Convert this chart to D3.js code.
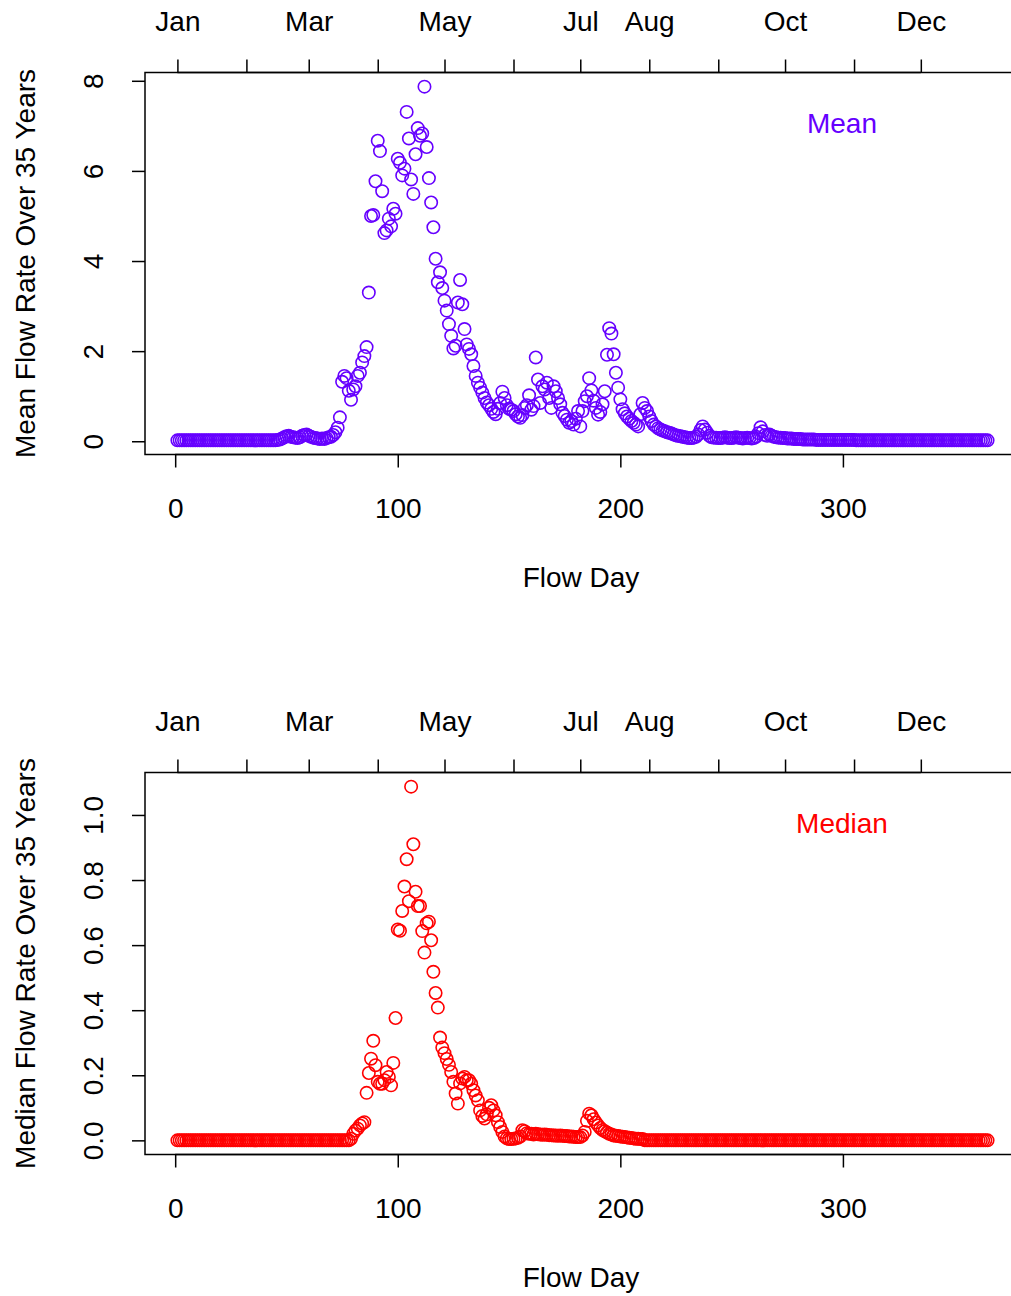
<!DOCTYPE html>
<html>
<head>
<meta charset="utf-8">
<script src="https://cdn.jsdelivr.net/npm/d3@7"></script>
<style>
  body { margin: 0; background: #fff; }
  svg { display: block; }
  text { font-family: "Liberation Sans", Arial, Helvetica, sans-serif; font-size: 28px; fill: #000; }
</style>
</head>
<body>
<svg id="chart" width="1011" height="1296"></svg>
<script>
// Day of year for each observation
const flowDays = d3.range(1, 366);

// Mean daily flow rate across 35 years, one value per flow day
const meanFlow = [
  0.02,0.02,0.02,0.02,0.02,0.02,0.02,0.02,0.02,0.02,
  0.02,0.02,0.02,0.02,0.02,0.02,0.02,0.02,0.02,0.02,
  0.02,0.02,0.02,0.02,0.02,0.02,0.02,0.02,0.02,0.02,
  0.02,0.02,0.02,0.02,0.02,0.02,0.02,0.02,0.02,0.02,
  0.02,0.02,0.02,0.02,0.02,0.03,0.04,0.06,0.09,0.11,
  0.12,0.10,0.09,0.08,0.07,0.09,0.12,0.14,0.15,0.12,
  0.10,0.08,0.07,0.06,0.05,0.06,0.05,0.07,0.09,0.10,
  0.14,0.20,0.30,0.53,1.32,1.45,1.40,1.12,0.92,1.15,
  1.22,1.45,1.52,1.75,1.89,2.09,3.30,5.00,5.02,5.77,
  6.67,6.44,5.55,4.62,4.68,4.94,4.77,5.16,5.05,6.27,
  6.18,5.90,6.05,7.31,6.72,5.81,5.49,6.37,6.95,6.78,
  6.83,7.87,6.53,5.84,5.30,4.75,4.05,3.53,3.75,3.40,
  3.12,2.90,2.60,2.34,2.06,2.12,3.08,3.58,3.04,2.49,
  2.15,2.05,1.93,1.67,1.45,1.30,1.19,1.08,0.96,0.86,
  0.80,0.72,0.65,0.60,0.72,0.85,1.10,0.96,0.80,0.72,
  0.70,0.67,0.60,0.55,0.52,0.58,0.74,0.80,1.02,0.70,
  0.78,1.86,1.37,0.85,1.22,1.15,1.30,0.96,0.74,1.22,
  1.11,0.96,0.82,0.63,0.56,0.48,0.41,0.45,0.37,0.50,
  0.67,0.33,0.67,0.89,1.00,1.40,1.13,0.90,0.74,0.59,
  0.65,0.82,1.11,1.92,2.51,2.39,1.93,1.52,1.19,0.93,
  0.71,0.62,0.55,0.50,0.45,0.41,0.37,0.33,0.60,0.85,
  0.74,0.67,0.55,0.45,0.37,0.33,0.29,0.26,0.24,0.22,
  0.20,0.19,0.17,0.15,0.13,0.12,0.11,0.10,0.09,0.08,
  0.07,0.07,0.08,0.10,0.15,0.25,0.33,0.26,0.19,0.12,
  0.09,0.08,0.08,0.07,0.07,0.08,0.09,0.08,0.07,0.07,
  0.08,0.09,0.08,0.07,0.06,0.07,0.08,0.07,0.06,0.07,
  0.10,0.18,0.31,0.22,0.14,0.12,0.15,0.12,0.10,0.09,
  0.08,0.08,0.07,0.07,0.06,0.06,0.06,0.05,0.05,0.05,
  0.05,0.04,0.04,0.04,0.04,0.04,0.04,0.03,0.03,0.03,
  0.03,0.03,0.03,0.03,0.03,0.03,0.03,0.03,0.03,0.03,
  0.03,0.03,0.03,0.03,0.03,0.02,0.02,0.02,0.02,0.02,
  0.02,0.02,0.02,0.02,0.02,0.02,0.02,0.02,0.02,0.02,
  0.02,0.02,0.02,0.02,0.02,0.02,0.02,0.02,0.02,0.02,
  0.02,0.02,0.02,0.02,0.02,0.02,0.02,0.02,0.02,0.02,
  0.02,0.02,0.02,0.02,0.02,0.02,0.02,0.02,0.02,0.02,
  0.02,0.02,0.02,0.02,0.02,0.02,0.02,0.02,0.02,0.02,
  0.02,0.02,0.02,0.02,0.02
];

// Median daily flow rate across 35 years, one value per flow day
const medianFlow = [
  0,0,0,0,0,0,0,0,0,0,
  0,0,0,0,0,0,0,0,0,0,
  0,0,0,0,0,0,0,0,0,0,
  0,0,0,0,0,0,0,0,0,0,
  0,0,0,0,0,0,0,0,0,0,
  0,0,0,0,0,0,0,0,0,0,
  0,0,0,0,0,0,0,0,0,0,
  0,0,0,0,0,0,0,0,0.005,0.02,
  0.03,0.036,0.046,0.052,0.056,0.146,0.207,0.251,0.306,0.231,
  0.18,0.174,0.174,0.185,0.21,0.195,0.169,0.238,0.376,0.648,
  0.644,0.705,0.78,0.864,0.735,1.087,0.91,0.764,0.72,0.72,
  0.643,0.577,0.667,0.672,0.615,0.518,0.453,0.408,0.316,0.285,
  0.268,0.25,0.232,0.21,0.18,0.144,0.113,0.175,0.19,0.195,
  0.185,0.185,0.174,0.154,0.138,0.123,0.092,0.075,0.067,0.08,
  0.1,0.108,0.092,0.077,0.056,0.041,0.026,0.012,0.006,0.004,
  0.004,0.005,0.006,0.008,0.012,0.031,0.028,0.022,0.02,0.02,
  0.018,0.02,0.019,0.018,0.017,0.018,0.017,0.016,0.016,0.015,
  0.015,0.014,0.015,0.014,0.013,0.013,0.012,0.012,0.011,0.01,
  0.01,0.01,0.015,0.026,0.06,0.082,0.077,0.065,0.055,0.046,
  0.038,0.032,0.028,0.024,0.02,0.018,0.015,0.014,0.013,0.012,
  0.011,0.01,0.009,0.008,0.007,0.006,0.005,0.005,0.004,0.004,
  0,0,0,0,0,0,0,0,0,0,
  0,0,0,0,0,0,0,0,0,0,
  0,0,0,0,0,0,0,0,0,0,
  0,0,0,0,0,0,0,0,0,0,
  0,0,0,0,0,0,0,0,0,0,
  0,0,0,0,0,0,0,0,0,0,
  0,0,0,0,0,0,0,0,0,0,
  0,0,0,0,0,0,0,0,0,0,
  0,0,0,0,0,0,0,0,0,0,
  0,0,0,0,0,0,0,0,0,0,
  0,0,0,0,0,0,0,0,0,0,
  0,0,0,0,0,0,0,0,0,0,
  0,0,0,0,0,0,0,0,0,0,
  0,0,0,0,0,0,0,0,0,0,
  0,0,0,0,0,0,0,0,0,0,
  0,0,0,0,0
];

// Axis ticks
const dayTicks = [0, 100, 200, 300];
const meanTicks = [0, 2, 4, 6, 8];
const medianTicks = [0, 0.2, 0.4, 0.6, 0.8, 1.0];
const monthStartDays = [1, 32, 60, 91, 121, 152, 182, 213, 244, 274, 305, 335];
const monthLabels = ["Jan", "", "Mar", "", "May", "", "Jul", "Aug", "", "Oct", "", "Dec"];

const svg = d3.select("#chart");

// Plot region geometry (box runs past the right edge of the canvas)
const left = 145, right = 1020, boxH = 382, tick = 13;

// x spans the day range padded by 4% on each side
const xPad = (d3.max(flowDays) - d3.min(flowDays)) * 0.04;
const x = d3.scaleLinear()
  .domain([d3.min(flowDays) - xPad, d3.max(flowDays) + xPad])
  .range([left, right]);

const panels = [
  { top: 72.5, values: meanFlow, ticks: meanTicks, fmt: d3.format("d"),
    color: "#6600ff", ylab: "Mean Flow Rate Over 35 Years", legend: "Mean" },
  { top: 772.5, values: medianFlow, ticks: medianTicks, fmt: d3.format(".1f"),
    color: "#ff0000", ylab: "Median Flow Rate Over 35 Years", legend: "Median" }
];

panels.forEach(p => {
  const g = svg.append("g");
  const bottom = p.top + boxH;
  const [vmin, vmax] = d3.extent(p.values);
  const yPad = (vmax - vmin) * 0.04;
  const y = d3.scaleLinear().domain([vmin - yPad, vmax + yPad]).range([bottom, p.top]);

  // points
  g.append("g").selectAll("circle")
    .data(flowDays.map((d, i) => ({ day: d, v: p.values[i] })))
    .join("circle")
    .attr("cx", d => x(d.day))
    .attr("cy", d => y(d.v))
    .attr("r", 6.2)
    .attr("fill", "none")
    .attr("stroke", p.color)
    .attr("stroke-width", 1.6);

  // frame
  g.append("rect")
    .attr("x", left).attr("y", p.top)
    .attr("width", right - left).attr("height", boxH)
    .attr("fill", "none").attr("stroke", "#000").attr("stroke-width", 1.5);

  // bottom axis: flow day
  const xa = g.append("g").attr("transform", `translate(0,${bottom})`)
    .call(d3.axisBottom(x).tickValues(dayTicks).tickSize(tick).tickFormat(d3.format("d")));
  xa.select(".domain").remove();
  xa.selectAll("line").attr("stroke-width", 1.5);
  xa.selectAll("text").attr("font-size", 28).attr("font-family", null)
    .attr("y", 0).attr("dy", null).attr("transform", "translate(0,63.5)");
  xa.append("line")
    .attr("x1", x(dayTicks[0])).attr("x2", x(dayTicks[dayTicks.length - 1]))
    .attr("stroke", "#000").attr("stroke-width", 1.5);

  // left axis: flow rate, labels turned to run along the axis
  const ya = g.append("g").attr("transform", `translate(${left},0)`)
    .call(d3.axisLeft(y).tickValues(p.ticks).tickSize(tick).tickFormat(p.fmt));
  ya.select(".domain").remove();
  ya.selectAll("line").attr("stroke-width", 1.5);
  ya.selectAll("text").attr("font-size", 28).attr("font-family", null)
    .attr("x", 0).attr("dy", null).attr("text-anchor", "middle")
    .attr("transform", "translate(-42,0) rotate(-90)");

  // top axis: month starts
  const ma = g.append("g").attr("transform", `translate(0,${p.top})`)
    .call(d3.axisTop(x).tickValues(monthStartDays).tickSize(tick)
      .tickFormat((d, i) => monthLabels[i]));
  ma.select(".domain").remove();
  ma.selectAll("line").attr("stroke-width", 1.5);
  ma.selectAll("text").attr("font-size", 28).attr("font-family", null)
    .attr("y", 0).attr("dy", null).attr("transform", "translate(0,-41.5)");
  ma.append("line")
    .attr("x1", x(monthStartDays[0])).attr("x2", x(monthStartDays[monthStartDays.length - 1]))
    .attr("stroke", "#000").attr("stroke-width", 1.5);

  // axis titles
  g.append("text")
    .attr("x", 581).attr("y", bottom + 132.5)
    .attr("text-anchor", "middle").text("Flow Day");
  g.append("text")
    .attr("transform", `translate(35,${(p.top + bottom) / 2}) rotate(-90)`)
    .attr("text-anchor", "middle").text(p.ylab);

  // series label
  g.append("text")
    .attr("x", 842).attr("y", p.top + 60)
    .attr("text-anchor", "middle").style("fill", p.color).text(p.legend);
});
</script>
</body>
</html>
